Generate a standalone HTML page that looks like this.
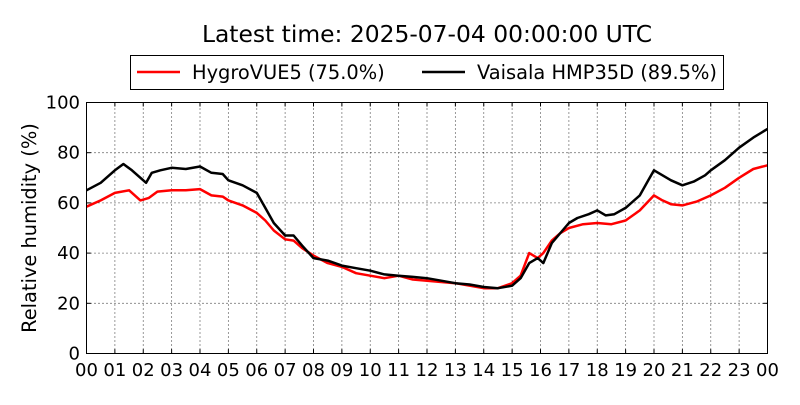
<!DOCTYPE html>
<html><head><meta charset="utf-8"><style>
body{margin:0;background:#fff;font-family:"Liberation Sans","DejaVu Sans",sans-serif}
</style></head><body>
<svg width="800" height="400" viewBox="0 0 800 400" font-family="DejaVu Sans, Liberation Sans, sans-serif">
<rect width="800" height="400" fill="#fff"/>
<text x="427" y="42" font-size="23.4" text-anchor="middle">Latest time: 2025-07-04 00:00:00 UTC</text>
<g>
<rect x="130.5" y="55.5" width="593" height="34" fill="#fff" stroke="#000" stroke-width="1"/>
<line x1="137" y1="72" x2="180" y2="72" stroke="#f00" stroke-width="2.5"/>
<text x="192" y="79" font-size="19.4">HygroVUE5 (75.0%)</text>
<line x1="422" y1="72" x2="465" y2="72" stroke="#000" stroke-width="2.5"/>
<text x="477" y="79" font-size="19.4">Vaisala HMP35D (89.5%)</text>
</g>
<g id="grid"></g>
<g id="series"></g>
<rect x="86.5" y="102.5" width="681" height="251" fill="none" stroke="#000" stroke-width="1"/>
<g id="ticks"></g>
<text transform="translate(36,228) rotate(-90)" font-size="19.4" text-anchor="middle">Relative humidity (%)</text>
</svg>
<script>
const yTicks=[0,20,40,60,80,100];
const xTicks=[0,1,2,3,4,5,6,7,8,9,10,11,12,13,14,15,16,17,18,19,20,21,22,23,24];
const xTickLabels=["00","01","02","03","04","05","06","07","08","09","10","11","12","13","14","15","16","17","18","19","20","21","22","23","00"];
const vaisalaHours=[0,0.5,1,1.3,1.6,1.9,2.1,2.3,2.6,3,3.5,4,4.4,4.8,5,5.5,6,6.3,6.6,7,7.3,7.6,8,8.5,9,9.5,10,10.5,11,11.5,12,12.5,13,13.5,14,14.5,15,15.3,15.6,15.9,16.1,16.4,16.7,17,17.3,17.7,18,18.3,18.6,19,19.5,19.8,20,20.3,20.6,21,21.4,21.8,22,22.5,23,23.5,24];
const vaisalaValues=[65,68,73,75.5,73,70,68,72,73,74,73.5,74.5,72,71.5,69,67,64,58,52,47,47,43,38,37,35,34,33,31.5,31,30.5,30,29,28,27.5,26.5,26,27,30,36,38,36,44,48,52,54,55.5,57,55,55.5,58,63,69,73,71,69,67,68.5,71,73,77,82,86,89.5];
const hygroHours=[0,0.5,1,1.5,1.9,2.2,2.5,3,3.5,4,4.4,4.8,5,5.5,6,6.3,6.6,7,7.3,7.6,8,8.5,9,9.5,10,10.5,11,11.5,12,12.5,13,13.5,14,14.5,15,15.3,15.6,15.9,16.1,16.4,16.7,17,17.5,18,18.5,19,19.5,20,20.3,20.6,21,21.5,22,22.5,23,23.5,24];
const hygroValues=[58.5,61,64,65,61,62,64.5,65,65,65.5,63,62.5,61,59,56,53,49,45.5,45,42,39,36,34.5,32,31,30,31,29.5,29,28.5,28,27,26,26,28,31,40,38,40,45,48,50,51.5,52,51.5,53,57,63,61,59.5,59,60.5,63,66,70,73.5,75];
const X0=86.5,X1=767.5,Y0=353.5,Y1=102.5;
const sx=h=>X0+(X1-X0)*h/24, sy=v=>Y0-(Y0-Y1)*v/100;
const NS="http://www.w3.org/2000/svg";
const grid=document.getElementById('grid'),ticks=document.getElementById('ticks'),ser=document.getElementById('series');
function mk(tag,attrs,parent){const e=document.createElementNS(NS,tag);for(const k in attrs)e.setAttribute(k,attrs[k]);parent.appendChild(e);return e;}
yTicks.forEach(v=>{
 const y=sy(v);
 const g=mk('line',{x1:X0,x2:X1,y1:y,y2:y,stroke:'#000','stroke-width':0.8,'stroke-dasharray':'1,3'},grid);
 
 
 mk('line',{x1:X0,x2:X0+4,y1:y,y2:y,stroke:'#000'},ticks);
 mk('line',{x1:X1-4,x2:X1,y1:y,y2:y,stroke:'#000'},ticks);
 const t=mk('text',{x:80,y:y+6,'font-size':18,'text-anchor':'end'},ticks);t.textContent=v;
 
 
});
xTicks.forEach((h,i)=>{
 const x=sx(h);
 const g=mk('line',{x1:x,x2:x,y1:Y0,y2:Y1,stroke:'#000','stroke-width':0.8,'stroke-dasharray':'1,3'},grid);
 
 
 mk('line',{x1:x,x2:x,y1:Y0,y2:Y0-4,stroke:'#000'},ticks);
 mk('line',{x1:x,x2:x,y1:Y1,y2:Y1+4,stroke:'#000'},ticks);
 const t=mk('text',{x:x,y:376,'font-size':18,'text-anchor':'middle'},ticks);t.textContent=xTickLabels[i];
 
 
});
function line(hs,vs,color,name){
 const d=hs.map((h,i)=>(i?'L':'M')+sx(h).toFixed(1)+','+sy(vs[i]).toFixed(1)).join('');
 const p=mk('path',{d:d,fill:'none',stroke:color,'stroke-width':2.5,'stroke-linejoin':'round'},ser);
 
 
}
line(hygroHours,hygroValues,'#f00','hygrovue5-line');
line(vaisalaHours,vaisalaValues,'#000','vaisala-line');
</script>
</body></html>
